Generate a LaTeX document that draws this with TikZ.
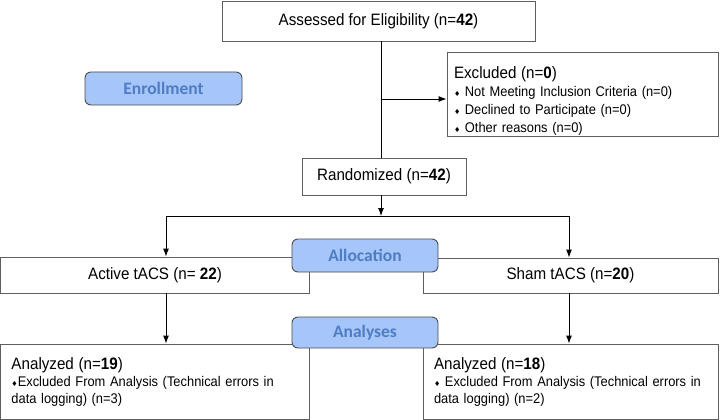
\documentclass[tikz,border=0pt]{standalone}
\usepackage{fontspec}
\setmainfont{Liberation Sans}[FakeStretch=0.92]
\newfontfamily\stagefont{Carlito}
\newfontfamily\symf{DejaVu Sans}
\usetikzlibrary{arrows.meta}
\definecolor{stagefill}{RGB}{166,197,248}
\definecolor{stagetext}{RGB}{78,125,196}
\definecolor{boxline}{RGB}{95,95,95}
\newcommand{\dm}{{\symf\fontsize{7}{7}\selectfont ♦}}
\tikzset{
  box/.style={draw=boxline, line width=0.9pt, fill=white, inner sep=0pt,
    font=\fontsize{16.5}{19}\selectfont},
  stage/.style={draw=boxline!80!black, line width=0.9pt, fill=stagefill, rounded corners=6pt,
    inner sep=0pt, text=stagetext, font=\stagefont\bfseries\fontsize{17.5}{20}\selectfont},
  arr/.style={draw=black, line width=0.9pt, -{Latex[length=8pt,width=6pt]}},
  conn/.style={draw=black, line width=0.9pt}
}
\begin{document}
\begin{tikzpicture}[x=1pt,y=-1pt]
\useasboundingbox (0,0) rectangle (720,420);
\fill[white] (0,0) rectangle (720,420);

\node[box, minimum width=313, minimum height=40] (assess) at (378.5,21) {Assessed for Eligibility (n=\textbf{42})};
\node[stage, minimum width=157, minimum height=33] (enroll) at (163.5,88.5) {Enrollment};
\node[box, minimum width=271, minimum height=84, text width=257, inner xsep=7, align=left,
  font=\fontsize{14}{18}\selectfont] (excl) at (582.5,94)
  {\rule{0pt}{26pt}{\fontsize{16.5}{19}\selectfont Excluded (n=\textbf{0})}\\
   \dm\ Not Meeting Inclusion Criteria (n=0)\\
   \dm\ Declined to Participate (n=0)\\
   \dm\ Other reasons (n=0)};
\node[box, minimum width=164, minimum height=37] (rand) at (384,176.5) {Randomized (n=\textbf{42})};

\node[box, minimum width=309, minimum height=36] (active) at (155,275) {Active tACS (n= \textbf{22})};
\node[box, minimum width=295, minimum height=35] (sham) at (570.5,275.5) {Sham tACS (n=\textbf{20})};

\node[box, minimum width=309, minimum height=75, text width=287, inner xsep=11, align=left,
  font=\fontsize{14}{17}\selectfont] (anl) at (155,381.5)
  {{\fontsize{16.5}{19}\selectfont Analyzed (n=\textbf{19})}\\
   \dm Excluded From Analysis (Technical errors in\\
   data logging) (n=3)};
\node[box, minimum width=295, minimum height=75, text width=273, inner xsep=11, align=left,
  font=\fontsize{14}{17}\selectfont] (anr) at (570.5,381.5)
  {{\fontsize{16.5}{19}\selectfont Analyzed (n=\textbf{18})}\\
   \dm\ Excluded From Analysis (Technical errors in\\
   data logging) (n=2)};

\node[stage, minimum width=146, minimum height=33] (alloc) at (365,255.5) {Allocation};
\node[stage, minimum width=146, minimum height=31] (analyses) at (365,332.5) {Analyses};

\coordinate (spine) at (381,0);
\coordinate (exbr) at (381,99);
\coordinate (split) at (381,216);
\coordinate (lbr) at (166,216);
\coordinate (rbr) at (569,216);

\draw[conn] (assess.south -| spine) -- (rand.north -| spine);
\draw[arr] (exbr) -- (exbr -| excl.west);
\draw[arr] (rand.south -| spine) -- (split);
\draw[conn] (lbr) -- (rbr);
\draw[arr] (lbr) -- (lbr |- active.north);
\draw[arr] (rbr) -- (rbr |- sham.north);
\draw[arr] (active.south -| lbr) -- (anl.north -| lbr);
\draw[arr] (sham.south -| rbr) -- (anr.north -| rbr);
\end{tikzpicture}
\end{document}
